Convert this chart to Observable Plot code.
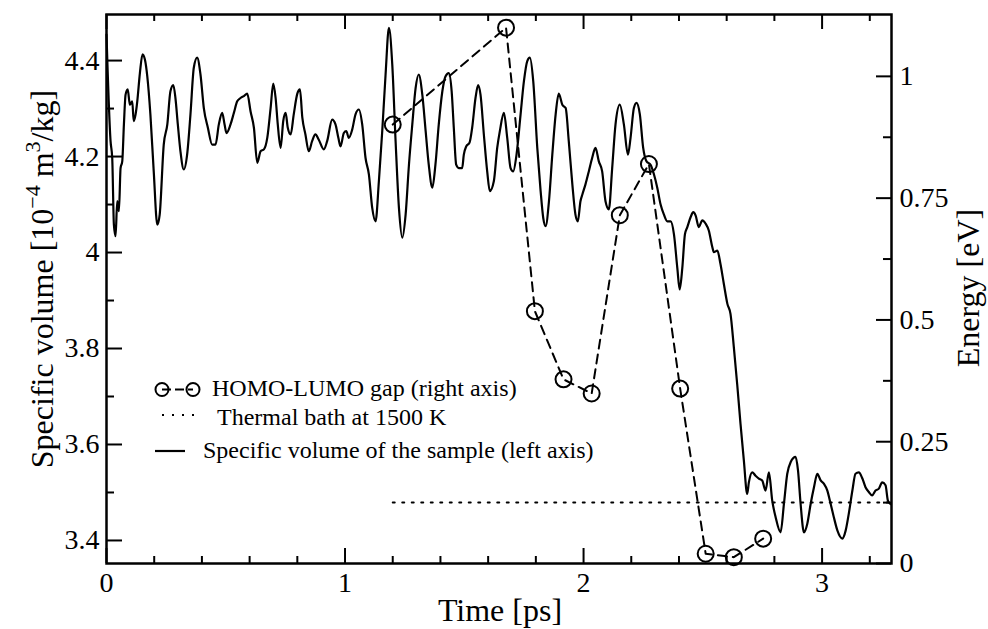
<!DOCTYPE html>
<html><head><meta charset="utf-8">
<script src="https://cdn.jsdelivr.net/npm/d3@7"></script>
<script src="https://cdn.jsdelivr.net/npm/@observablehq/plot@0.6"></script>
<style>body{margin:0;background:#fff}</style>
</head><body><div id="chart"></div>
<script>
// ---- data ----
// specific volume of the sample [1e-4 m^3/kg] vs time [ps]
const volumeSeries = [
[0,4.454],[0.017,4.232],[0.024,4.197],[0.031,4.058],[0.038,4.034],[0.045,4.107],[0.052,4.086],[0.059,4.176],[0.066,4.190],[0.073,4.267],
[0.080,4.329],[0.089,4.340],[0.098,4.308],[0.108,4.315],[0.114,4.274],[0.122,4.288],[0.129,4.315],[0.140,4.374],[0.151,4.413],[0.161,4.402],
[0.171,4.367],[0.184,4.288],[0.198,4.169],[0.213,4.058],[0.223,4.079],[0.240,4.225],[0.255,4.267],[0.268,4.336],[0.280,4.349],[0.289,4.322],
[0.299,4.267],[0.310,4.211],[0.324,4.173],[0.338,4.204],[0.352,4.288],[0.366,4.385],[0.380,4.406],[0.394,4.371],[0.408,4.301],[0.425,4.260],
[0.443,4.225],[0.457,4.225],[0.471,4.267],[0.485,4.291],[0.495,4.267],[0.503,4.249],[0.520,4.267],[0.534,4.291],[0.548,4.315],[0.562,4.322],
[0.576,4.326],[0.590,4.331],[0.604,4.294],[0.618,4.260],[0.632,4.187],[0.646,4.211],[0.660,4.215],[0.674,4.239],[0.688,4.301],[0.699,4.352],
[0.709,4.322],[0.718,4.267],[0.730,4.218],[0.741,4.274],[0.751,4.291],[0.760,4.260],[0.772,4.246],[0.785,4.288],[0.800,4.331],[0.811,4.340],
[0.821,4.281],[0.834,4.246],[0.848,4.211],[0.862,4.232],[0.876,4.246],[0.890,4.235],[0.911,4.215],[0.925,4.232],[0.946,4.277],[0.960,4.267],
[0.972,4.239],[0.981,4.221],[0.995,4.249],[1.005,4.253],[1.016,4.239],[1.030,4.256],[1.044,4.288],[1.058,4.298],[1.072,4.267],[1.086,4.197],
[1.100,4.163],[1.114,4.093],[1.128,4.065],[1.142,4.149],[1.156,4.253],[1.170,4.371],[1.184,4.468],[1.198,4.392],[1.212,4.232],[1.226,4.093],
[1.240,4.031],[1.254,4.079],[1.268,4.183],[1.282,4.267],[1.296,4.343],[1.309,4.371],[1.324,4.329],[1.338,4.253],[1.351,4.183],[1.366,4.135],
[1.379,4.183],[1.393,4.267],[1.408,4.336],[1.421,4.367],[1.435,4.374],[1.447,4.336],[1.456,4.260],[1.466,4.183],[1.477,4.176],[1.491,4.176],
[1.498,4.204],[1.508,4.221],[1.522,4.229],[1.533,4.260],[1.547,4.322],[1.558,4.349],[1.568,4.329],[1.582,4.246],[1.596,4.169],[1.607,4.128],
[1.624,4.149],[1.638,4.218],[1.649,4.253],[1.666,4.291],[1.680,4.239],[1.694,4.176],[1.705,4.169],[1.719,4.204],[1.736,4.288],[1.750,4.357],
[1.764,4.399],[1.775,4.406],[1.789,4.357],[1.806,4.218],[1.820,4.128],[1.831,4.072],[1.841,4.055],[1.855,4.107],[1.869,4.204],[1.883,4.288],
[1.896,4.331],[1.911,4.308],[1.925,4.301],[1.938,4.232],[1.953,4.142],[1.966,4.079],[1.976,4.065],[1.987,4.107],[1.995,4.121],[2.008,4.142],
[2.022,4.169],[2.036,4.197],[2.050,4.218],[2.064,4.190],[2.078,4.169],[2.092,4.107],[2.106,4.090],[2.120,4.176],[2.134,4.267],[2.152,4.308],
[2.169,4.267],[2.186,4.204],[2.197,4.239],[2.211,4.301],[2.222,4.312],[2.236,4.288],[2.250,4.218],[2.264,4.190],[2.281,4.183],[2.295,4.163],
[2.309,4.135],[2.323,4.100],[2.337,4.079],[2.351,4.065],[2.365,4.065],[2.379,4.038],[2.393,3.968],[2.403,3.923],[2.414,3.968],[2.425,4.038],
[2.435,4.053],[2.449,4.074],[2.460,4.084],[2.470,4.077],[2.483,4.053],[2.498,4.067],[2.512,4.060],[2.525,4.046],[2.540,4.011],[2.546,4.001],
[2.561,4.004],[2.574,3.976],[2.588,3.935],[2.603,3.893],[2.616,3.872],[2.630,3.803],[2.644,3.726],[2.658,3.643],[2.672,3.567],[2.686,3.497],
[2.693,3.521],[2.707,3.542],[2.721,3.535],[2.735,3.529],[2.749,3.525],[2.763,3.504],[2.777,3.542],[2.791,3.483],[2.805,3.449],[2.826,3.417],
[2.840,3.476],[2.854,3.539],[2.868,3.563],[2.889,3.574],[2.899,3.546],[2.910,3.476],[2.924,3.417],[2.938,3.435],[2.952,3.476],[2.966,3.511],
[2.980,3.539],[2.994,3.525],[3.008,3.518],[3.022,3.504],[3.036,3.476],[3.049,3.449],[3.064,3.421],[3.085,3.404],[3.099,3.421],[3.112,3.456],
[3.127,3.504],[3.140,3.539],[3.154,3.542],[3.169,3.529],[3.182,3.511],[3.196,3.501],[3.210,3.494],[3.224,3.504],[3.238,3.508],[3.252,3.521],
[3.266,3.515],[3.276,3.483],[3.287,3.476]
];
// HOMO-LUMO gap [eV] vs time [ps]
const gapTime   = [1.200, 1.675, 1.796, 1.916, 2.034, 2.152, 2.274, 2.405, 2.512, 2.630, 2.753];
const gapEnergy = [0.901, 1.100, 0.518, 0.378, 0.349, 0.715, 0.820, 0.359, 0.020, 0.013, 0.051];
// thermal bath at 1500 K [eV]
const bathTime = [1.2, 3.291];
const bathEnergy = [0.125, 0.125];
// axes
const timeDomain = [0, 3.291];
const volumeDomain = [3.352, 4.496];
const energyMax = 1.127;
const timeMajor = [0, 1, 2, 3];
const timeMinor = [0.2,0.4,0.6,0.8,1.2,1.4,1.6,1.8,2.2,2.4,2.6,2.8,3.2];
const volumeMajor = [3.4, 3.6, 3.8, 4, 4.2, 4.4];
const volumeMinor = [3.5, 3.7, 3.9, 4.1, 4.3];
const energyMajor = [0, 0.25, 0.5, 0.75, 1];
const energyMinor = [0.125, 0.375, 0.625, 0.875];
const legendLabels = ["HOMO-LUMO gap (right axis)", "Thermal bath at 1500 K", "Specific volume of the sample (left axis)"];

// ---- layout ----
const W = 988, H = 629, mL = 106, mR = 97, mT = 14, mB = 66;
const [V0, V1] = volumeDomain, T1 = timeDomain[1];
const toV = e => V0 + e * (V1 - V0) / energyMax;
const fromV = v => (v - V0) * energyMax / (V1 - V0);
const pxV = (V1 - V0) / (H - mT - mB);
const pxT = T1 / (W - mL - mR);
const F = "Liberation Serif, Times New Roman, serif";

const volume = volumeSeries.map(([t, v]) => ({t, v}));
const gap = gapTime.map((t, i) => ({t, v: toV(gapEnergy[i])}));
const bath = bathTime.map((t, i) => ({t, v: toV(bathEnergy[i])}));

const TW = 2;
const svg = Plot.plot({
  width: W, height: H,
  marginLeft: mL, marginRight: mR, marginTop: mT, marginBottom: mB,
  x: {domain: timeDomain},
  y: {domain: volumeDomain},
  style: {fontFamily: F, fontSize: "28px", color: "black", background: "white"},
  marks: [
    Plot.line(bath, {x: "t", y: "v", stroke: "black", strokeWidth: 2, strokeDasharray: "2,7.5"}),
    Plot.line(volume, {x: "t", y: "v", stroke: "black", strokeWidth: 2.2, curve: "monotone-x"}),
    Plot.line(gap, {x: "t", y: "v", stroke: "black", strokeWidth: 2, strokeDasharray: "9,6"}),
    Plot.dot(gap, {x: "t", y: "v", r: 8, stroke: "black", strokeWidth: 2, fill: "none"}),
    // inward ticks
    Plot.ruleX(timeMajor, {x: d => d, y1: V0, y2: V0 + 15 * pxV, stroke: "black", strokeWidth: TW}),
    Plot.ruleX(timeMinor, {x: d => d, y1: V0, y2: V0 + 7 * pxV, stroke: "black", strokeWidth: TW}),
    Plot.ruleX(timeMajor, {x: d => d, y1: V1, y2: V1 - 15 * pxV, stroke: "black", strokeWidth: TW}),
    Plot.ruleX(timeMinor, {x: d => d, y1: V1, y2: V1 - 7 * pxV, stroke: "black", strokeWidth: TW}),
    Plot.ruleY(volumeMajor, {y: d => d, x1: 0, x2: 16 * pxT, stroke: "black", strokeWidth: TW}),
    Plot.ruleY(volumeMinor, {y: d => d, x1: 0, x2: 8 * pxT, stroke: "black", strokeWidth: TW}),
    Plot.ruleY(energyMajor, {y: d => toV(d), x1: T1, x2: T1 - 15 * pxT, stroke: "black", strokeWidth: TW}),
    Plot.ruleY(energyMinor, {y: d => toV(d), x1: T1, x2: T1 - 8 * pxT, stroke: "black", strokeWidth: TW}),
    Plot.frame({stroke: "black", strokeWidth: 2.5}),
    Plot.axisX({ticks: timeMajor, anchor: "bottom", tickSize: 0, tickPadding: 9, label: null, tickFormat: d => String(d), fontFamily: F, fontSize: 28}),
    Plot.axisY({ticks: volumeMajor, anchor: "left", tickSize: 0, tickPadding: 7, label: null, tickFormat: d => String(d), fontFamily: F, fontSize: 28}),
    Plot.axisY({ticks: energyMajor.map(toV), anchor: "right", tickSize: 0, tickPadding: 8, label: null,
      tickFormat: v => String(Math.round(fromV(v) * 1000) / 1000), fontFamily: F, fontSize: 28})
  ]
});

const s = d3.select(svg).attr("font-family", F);
s.selectAll("text").style("font-family", F);
// axis titles
s.append("text").attr("x", 500).attr("y", 621).attr("text-anchor", "middle")
  .style("font-size", "32px").style("font-family", F).text("Time [ps]");
s.append("text").attr("transform", "translate(979,288) rotate(-90)").attr("text-anchor", "middle")
  .style("font-size", "32px").style("font-family", F).text("Energy [eV]");
const lt = s.append("text").attr("transform", "translate(53,279) rotate(-90)").attr("text-anchor", "middle")
  .style("font-size", "32px").style("font-family", F);
lt.append("tspan").text("Specific volume [10");
lt.append("tspan").attr("dy", -13).style("font-size", "22px").text("−4");
lt.append("tspan").attr("dy", 13).text(" m");
lt.append("tspan").attr("dy", -13).style("font-size", "22px").text("3");
lt.append("tspan").attr("dy", 13).text("/kg]");

// legend
const lg = s.append("g").style("font-family", F).style("font-size", "24px").attr("text-anchor", "start");
lg.append("line").attr("x1", 162).attr("x2", 193).attr("y1", 389.5).attr("y2", 389.5)
  .attr("stroke", "black").attr("stroke-width", 2).attr("stroke-dasharray", "9,4");
[162, 193].forEach(cx => lg.append("circle").attr("cx", cx).attr("cy", 389.5).attr("r", 6.5)
  .attr("fill", "none").attr("stroke", "black").attr("stroke-width", 2));
lg.append("text").attr("x", 212).attr("y", 396).attr("text-anchor", "start").text(legendLabels[0]);
lg.append("line").attr("x1", 162).attr("x2", 194).attr("y1", 415).attr("y2", 415)
  .attr("stroke", "black").attr("stroke-width", 2).attr("stroke-dasharray", "2,8");
lg.append("text").attr("x", 217).attr("y", 425).attr("text-anchor", "start").text(legendLabels[1]);
lg.append("line").attr("x1", 155).attr("x2", 185).attr("y1", 451).attr("y2", 451)
  .attr("stroke", "black").attr("stroke-width", 2.2);
lg.append("text").attr("x", 203).attr("y", 458).attr("text-anchor", "start").text(legendLabels[2]);

document.getElementById("chart").append(svg);
</script>
</body></html>
